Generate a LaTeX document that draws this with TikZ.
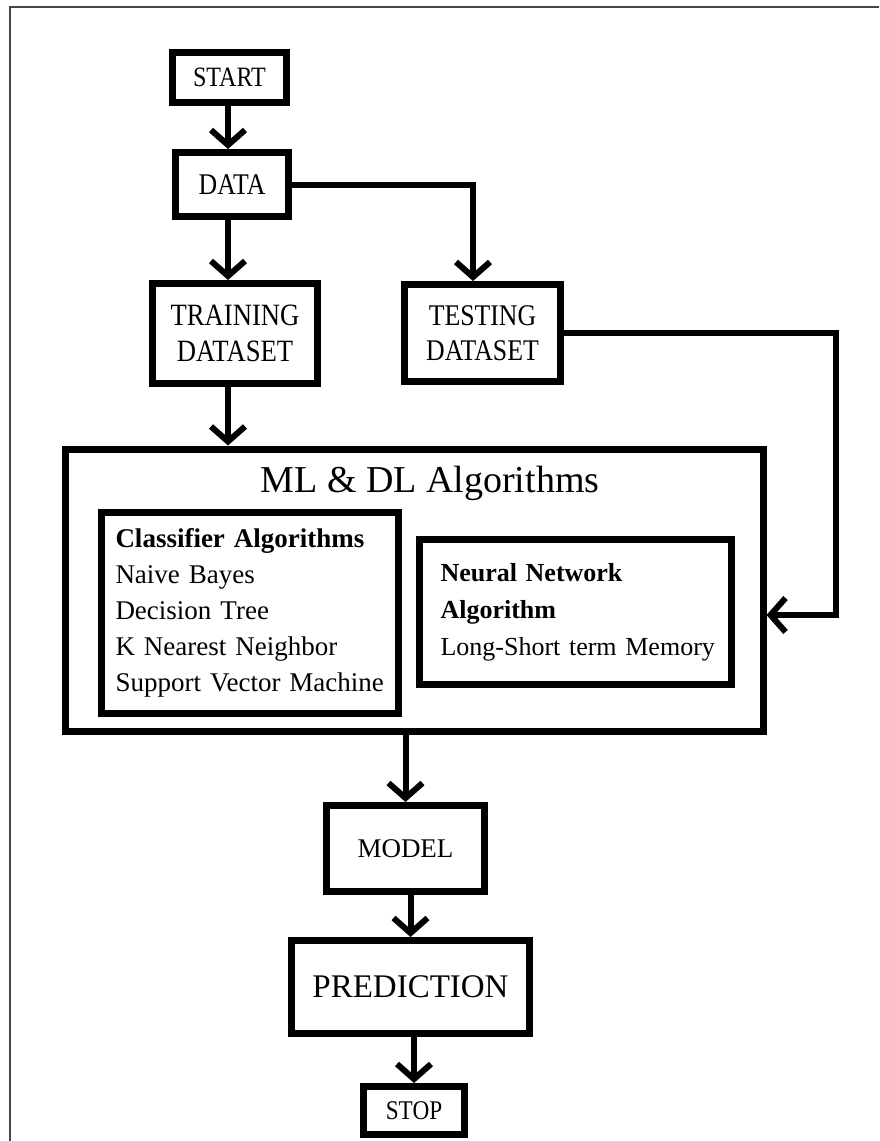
\documentclass[tikz,border=0pt]{standalone}
\usepackage{fontspec}
\setmainfont{Liberation Serif}
\newfontfamily\condfont[FakeStretch=0.86]{Liberation Serif}
\usetikzlibrary{arrows.meta,calc}
\begin{document}
\begin{tikzpicture}[x=1pt,y=-1pt,
  box/.style={draw=black, line width=7pt, fill=white, inner sep=0pt, align=center},
  conn/.style={line width=6pt, -{Straight Barb[length=15pt,width=34pt]}},
  frameline/.style={draw=black!72, line width=1.8pt}]
\useasboundingbox (0,0) rectangle (879,1141);
\draw[frameline] (10,1141) -- (10,7) -- (879,7);

% nodes
\node[box, minimum width=114pt, minimum height=50pt, font=\condfont\fontsize{28}{32}\selectfont] (start) at (229.5,77.5) {START};
\node[box, minimum width=113pt, minimum height=64pt, font=\condfont\fontsize{30}{34}\selectfont] (data) at (232,184.5) {DATA};
\node[box, minimum width=165pt, minimum height=100pt, font=\condfont\fontsize{31}{36}\selectfont] (train) at (235,333.5) {TRAINING\\DATASET};
\node[box, minimum width=156pt, minimum height=97pt, font=\condfont\fontsize{30}{35}\selectfont] (test) at (482.5,333) {TESTING\\DATASET};

\node[box, minimum width=698pt, minimum height=282pt] (ml) at (414,590) {};
\node[font=\fontsize{38}{44}\selectfont] (title) at (430,483) {ML \& DL Algorithms};
\node[box, minimum width=297pt, minimum height=201pt, inner xsep=14pt, text width=269pt, align=left,
      font=\fontsize{27}{36}\selectfont] (clf) at (250,613)
  {\mbox{\textbf{Classifier Algorithms}}\\\mbox{Naive Bayes}\\\mbox{Decision Tree}\\\mbox{K Nearest Neighbor}\\\mbox{Support Vector Machine}};
\node[box, minimum width=312pt, minimum height=145pt, inner xsep=21pt, text width=270pt, align=left,
      font=\fontsize{26}{37}\selectfont] (nn) at (575.5,612)
  {\mbox{\textbf{Neural Network}}\\\mbox{\textbf{Algorithm}}\\\mbox{Long-Short term Memory}};

\node[box, minimum width=158pt, minimum height=86pt, font=\fontsize{27}{32}\selectfont] (model) at (405.5,848.5) {MODEL};
\node[box, minimum width=238pt, minimum height=93pt, font=\fontsize{33}{38}\selectfont] (pred) at (410.5,987) {PREDICTION};
\node[box, minimum width=101pt, minimum height=48pt, font=\condfont\fontsize{27}{32}\selectfont] (stop) at (414,1110.5) {STOP};

% helper coordinates
\coordinate (ax) at (228,0);
\coordinate (rt) at (836,615);

% connectors
\draw[conn] (start.south -| ax) -- (data.north -| ax);
\draw[conn] (data.south -| ax) -- (train.north -| ax);
\draw[conn] (data.east) -| ([xshift=-9.5pt]test.north);
\draw[conn] (train.south -| ax) -- (ml.north -| ax);
\draw[conn] (test.east) -| (rt) -- (ml.east |- rt);
\draw[conn] (ml.south -| model) -- (model.north);
\draw[conn] (model.south -| pred) -- (pred.north);
\draw[conn] (pred.south -| stop) -- (stop.north);
\end{tikzpicture}
\end{document}
